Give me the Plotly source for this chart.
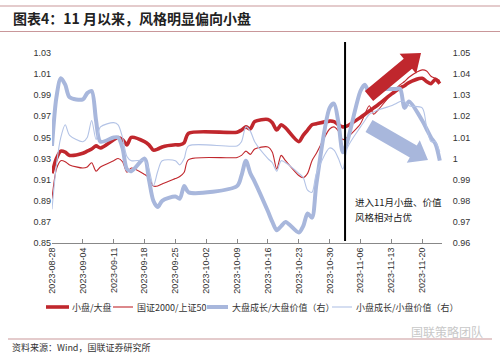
import plotly.graph_objects as go

dates = ["2023-08-28","2023-08-29","2023-08-30","2023-08-31","2023-09-01",
         "2023-09-04","2023-09-05","2023-09-06","2023-09-07","2023-09-08",
         "2023-09-11","2023-09-12","2023-09-13","2023-09-14","2023-09-15",
         "2023-09-18","2023-09-19","2023-09-20","2023-09-21","2023-09-22",
         "2023-09-25","2023-09-26","2023-09-27","2023-09-28",
         "2023-10-09","2023-10-10","2023-10-11","2023-10-12","2023-10-13",
         "2023-10-16","2023-10-17","2023-10-18","2023-10-19","2023-10-20",
         "2023-10-23","2023-10-24","2023-10-25","2023-10-26","2023-10-27",
         "2023-10-30","2023-10-31","2023-11-01","2023-11-02","2023-11-03",
         "2023-11-06","2023-11-07","2023-11-08","2023-11-09","2023-11-10",
         "2023-11-13","2023-11-14","2023-11-15","2023-11-16","2023-11-17",
         "2023-11-20","2023-11-21","2023-11-22","2023-11-23","2023-11-24"]

small_large = [0.916,0.930,0.937,0.936,0.933,
               0.935,0.937,0.939,0.942,0.940,
               0.948,0.950,0.948,0.943,0.950,
               0.946,0.943,0.938,0.939,0.941,
               0.943,0.943,0.945,0.954,
               0.955,0.957,0.960,0.958,0.965,
               0.967,0.964,0.957,0.962,0.959,
               0.946,0.952,0.957,0.962,0.963,
               0.9655,0.965,0.962,0.960,0.961,
               0.969,0.972,0.975,0.978,0.981,
               0.991,0.994,0.997,0.999,1.002,
               1.006,1.003,1.001,1.005,1.001]

gz2000_sz50 = [0.892,0.920,0.928,0.927,0.924,
               0.921,0.922,0.926,0.918,0.922,
               0.928,0.930,0.927,0.917,0.921,
               0.915,0.912,0.904,0.904,0.906,
               0.911,0.913,0.917,0.929,
               0.931,0.933,0.937,0.934,0.939,
               0.941,0.936,0.920,0.933,0.928,
               0.914,0.912,0.916,0.928,0.935,
               0.958,0.960,0.956,0.948,0.950,
               0.963,0.972,0.980,0.972,0.976,
               0.991,0.996,1.000,1.003,1.007,
               1.014,1.013,1.008,1.006,1.004]

large_growth_value = [1.006,1.029,1.038,1.035,1.029,
                      1.028,1.031,1.032,1.018,1.008,
                      1.010,1.010,1.005,0.995,0.994,
                      1.000,0.990,0.980,0.977,0.980,
                      0.982,0.981,0.987,0.984,
                      0.987,0.992,0.999,0.993,0.989,
                      0.975,0.970,0.966,0.968,0.970,
                      0.965,0.968,0.974,0.972,0.988,
                      1.024,1.026,1.017,1.003,1.008,
                      1.032,1.035,1.031,1.033,1.033,
                      1.033,1.033,1.033,1.024,1.027,
                      1.018,1.014,1.010,1.007,0.999]

small_growth_value = [0.976,0.997,1.010,1.016,1.011,
                      1.008,1.010,1.018,1.009,1.015,
                      1.017,1.016,1.010,1.001,0.999,
                      0.999,0.995,0.987,0.994,0.999,
                      0.999,0.997,1.000,1.006,
                      1.006,1.008,1.015,1.013,1.008,
                      1.000,0.998,0.994,0.999,0.998,
                      0.993,0.991,0.985,0.984,0.993,
                      1.005,1.004,1.000,0.995,1.005,
                      1.015,1.018,1.021,1.022,1.023,
                      1.025,1.026,1.027,1.027,1.025,
                      1.024,1.015,1.008,1.008,1.003]

left_ticks = [0.85,0.87,0.89,0.91,0.93,0.95,0.97,0.99,1.01,1.03]
right_ticks = [0.96,0.97,0.98,0.99,1.00,1.01,1.02,1.03,1.04,1.05]
names = ["小盘/大盘", "国证2000/上证50", "大盘成长/大盘价值（右）", "小盘成长/小盘价值（右）"]

RED = "#C0272D"
BLUE = "#A8B7DC"
BLUE_T = "#B3C3E6"
FONT = "Liberation Sans, Arial, sans-serif"
CJK = "Noto Sans CJK SC, sans-serif"

styles = [dict(color=RED, width=3.6), dict(color=RED, width=1.1),
          dict(color=BLUE, width=4), dict(color=BLUE_T, width=1.1)]

fig = go.Figure()
series = [small_large, gz2000_sz50, large_growth_value, small_growth_value]
axes = ["y", "y", "y2", "y2"]
for nm, ys, st, ax in zip(names, series, styles, axes):
    fig.add_trace(go.Scatter(x=dates, y=ys, name=nm, mode="lines", yaxis=ax,
                             line=dict(color=st["color"], width=st["width"],
                                       shape="spline", smoothing=0.8)))

# plot area in pixels
L, R, T, B = 52, 442, 53, 243
W, H = R - L, B - T

def P(px, py):
    return (px - L) / W, (B - py) / H

def arrow_path(sx, sy, tx, ty, bw, hw, hl):
    dx, dy = tx - sx, ty - sy
    ln = (dx * dx + dy * dy) ** 0.5
    ux, uy = dx / ln, dy / ln
    nx, ny = -uy, ux
    bx, by = tx - ux * hl, ty - uy * hl
    pts = [(sx + nx * bw, sy + ny * bw), (bx + nx * bw, by + ny * bw),
           (bx + nx * hw, by + ny * hw), (tx, ty),
           (bx - nx * hw, by - ny * hw), (bx - nx * bw, by - ny * bw),
           (sx - nx * bw, sy - ny * bw)]
    pp = [P(a, b) for a, b in pts]
    return "M " + " L ".join(f"{a:.4f},{b:.4f}" for a, b in pp) + " Z"

shapes = [
    dict(type="path", xref="paper", yref="paper", path=arrow_path(369, 96, 421, 53, 6.5, 13, 17),
         fillcolor=RED, line=dict(width=0)),
    dict(type="path", xref="paper", yref="paper", path=arrow_path(369, 126, 428, 160, 7, 13, 17),
         fillcolor=BLUE, line=dict(width=0)),
    dict(type="line", xref="x", yref="paper", x0="2023-11-02 12:00", x1="2023-11-02 12:00",
         y0=P(0, 241)[1], y1=P(0, 42)[1], line=dict(color="black", width=2)),
]

def hline(xa, xb, py, color, width):
    x0, y0 = P(xa, py)
    x1, _ = P(xb, py)
    shapes.append(dict(type="line", xref="paper", yref="paper", x0=x0, x1=x1, y0=y0, y1=y0,
                       line=dict(color=color, width=width)))

# header / footer rules
hline(0, 500, 6, "#C9979A", 1.2)
hline(0, 500, 31.5, "#C9979A", 1.2)
hline(8, 492, 339, "#C9979A", 1.2)

ann = []
def text(px, py, s, size, color="#333", anchor="left", family=CJK):
    x, y = P(px, py)
    ann.append(dict(xref="paper", yref="paper", x=x, y=y, xanchor=anchor, yanchor="middle",
                    text=s, showarrow=False, align="left",
                    font=dict(family=family, size=size, color=color)))

text(11, 18, "<b>图表4：11 月以来，风格明显偏向小盘</b>", 14, "#222")
text(353, 202, "进入11月小盘、价值", 9.5, "#222")
text(353, 217, "风格相对占优", 9.5, "#222")
text(10, 347, "资料来源：Wind，国联证券研究所", 9, "#333")
text(485, 331, "国联策略团队", 12, "#C8C8C8", anchor="right")

# manual legend
leg_y = 307
leg_items = [(46, 69, 70), (113, 133, 135), (207, 228, 230), (332, 352, 354)]
for (xa, xb, xt), nm, st in zip(leg_items, names, styles):
    hline(xa, xb, leg_y, st["color"], st["width"])
    text(xt, leg_y, nm, 9, "#333")

fig.update_layout(
    width=500, height=355,
    margin=dict(l=L, r=500 - R, t=T, b=355 - B, pad=0, autoexpand=False),
    paper_bgcolor="white", plot_bgcolor="white",
    font=dict(family=FONT, size=9, color="#333"),
    showlegend=False,
    xaxis=dict(type="date", range=["2023-08-28", "2023-11-24 12:00"],
               tick0="2023-08-28", dtick=7 * 24 * 3600 * 1000, tickformat="%Y-%m-%d",
               tickangle=-90, showgrid=False, showline=True, linecolor="#888", linewidth=1,
               ticks="inside", ticklen=4, tickcolor="#888",
               tickfont=dict(family=FONT, size=9, color="#333"), zeroline=False),
    yaxis=dict(range=[0.85, 1.03], tickvals=left_ticks,
               ticktext=[f"{v:.2f}" for v in left_ticks],
               showgrid=False, zeroline=False, showline=False, ticks="",
               tickfont=dict(family=FONT, size=9, color="#333")),
    yaxis2=dict(range=[0.96, 1.05], overlaying="y", side="right", tickvals=right_ticks,
                ticktext=[("1" if abs(v - 1) < 1e-9 else f"{v:.2f}") for v in right_ticks],
                showgrid=False, zeroline=False, showline=False,
                ticks="outside", ticklen=8, tickcolor="rgba(0,0,0,0)",
                tickfont=dict(family=FONT, size=9, color="#333")),
    shapes=shapes, annotations=ann,
)

fig.write_html("out.html", config={"displayModeBar": False},
               post_script="document.body.style.margin='0';document.body.style.overflow='hidden';")
